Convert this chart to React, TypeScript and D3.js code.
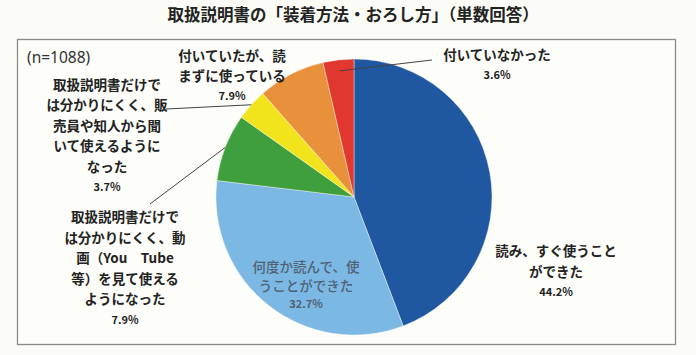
import React from "react";
import * as d3 from "d3";

const title = "取扱説明書の「装着方法・おろし方」（単数回答）";
const sampleNote = "(n=1088)";
const categories = [
  "読み、すぐ使うことができた",
  "何度か読んで、使うことができた",
  "取扱説明書だけでは分かりにくく、動画（You Tube等）を見て使えるようになった",
  "取扱説明書だけでは分かりにくく、販売員や知人から聞いて使えるようになった",
  "付いていたが、読まずに使っている",
  "付いていなかった",
];
const values = [44.2, 32.7, 7.9, 3.7, 7.9, 3.6];
const labelLines = [
  ["読み、すぐ使うこと", "ができた"],
  ["何度か読んで、使", "うことができた"],
  ["取扱説明書だけで", "は分かりにくく、動", "画（You　Tube", "等）を見て使える", "ようになった"],
  ["取扱説明書だけで", "は分かりにくく、販", "売員や知人から聞", "いて使えるように", "なった"],
  ["付いていたが、読", "まずに使っている"],
  ["付いていなかった"],
];
const colors = ["#1f57a0", "#7cb8e4", "#3f9f3c", "#f2e41c", "#e8903a", "#e0382e"];

const W = 696;
const H = 355;
const cx = 354;
const cy = 197;
const R = 138;

// label layout: centre x, first-line y, line height, leader (start x,y, end radius fraction), text colour
const layout = [
  { x: 556, y: 256, lh: 20.5, leader: null, color: "#222", weight: 700 },
  { x: 306, y: 272, lh: 18.5, leader: null, color: "#4f6274", weight: 500 },
  { x: 125, y: 222, lh: 20.5, leader: { x: 150, y: 204, k: 1.0 }, color: "#222", weight: 700 },
  { x: 107, y: 90, lh: 20.4, leader: { x: 166, y: 109, k: 1.0 }, color: "#222", weight: 700 },
  { x: 232, y: 61, lh: 20, leader: null, color: "#222", weight: 700 },
  { x: 497, y: 60, lh: 20, leader: { x: 432, y: 60, k: 0.92 }, color: "#222", weight: 700 },
];

export default function App() {
  const pie = d3.pie<number>().sort(null).value((d) => d);
  const arcs = pie(values);
  const arc = d3.arc<d3.PieArcDatum<number>>().innerRadius(0).outerRadius(R);
  const font = "'Noto Sans CJK JP', 'Noto Sans', sans-serif";

  return (
    <svg
      width={W}
      height={H}
      style={{ position: "absolute", left: 0, top: 0, background: "#fcfcf6" }}
      fontFamily={font}
    >
      <rect x={0} y={0} width={W} height={H} fill="#fcfcf6" />
      <text x={353} y={21} textAnchor="middle" fontSize={16.5} fontWeight={700} fill="#222">
        {title}
      </text>
      <rect x={17.5} y={39.5} width={658} height={305} fill="#fdfdf9" stroke="#8a8a8a" strokeWidth={1.3} />
      <text x={27} y={63} fontSize={15.5} fill="#333" fontFamily="'Noto Sans', sans-serif">
        {sampleNote}
      </text>
      <g transform={`translate(${cx},${cy})`}>
        {arcs.map((a, i) => (
          <path key={categories[i]} d={arc(a) || ""} fill={colors[i]} stroke="#fdfdf9" strokeWidth={0.4} />
        ))}
      </g>
      {arcs.map((a, i) => {
        const L = layout[i];
        if (!L.leader) return null;
        const k = L.leader.k;
        const [ex, ey] = d3
          .arc<d3.PieArcDatum<number>>()
          .innerRadius(R * k)
          .outerRadius(R * k)
          .centroid(a);
        return (
          <line
            key={"l" + i}
            x1={L.leader.x}
            y1={L.leader.y}
            x2={cx + ex}
            y2={cy + ey}
            stroke="#444"
            strokeWidth={1}
          />
        );
      })}
      {labelLines.map((lines, i) => {
        const L = layout[i];
        return (
          <g key={"t" + i} fill={L.color} textAnchor="middle">
            {lines.map((ln, j) => (
              <text key={j} x={L.x} y={L.y + j * L.lh} fontSize={13.5} fontWeight={L.weight}>
                {ln}
              </text>
            ))}
            <text x={L.x} y={L.y + lines.length * L.lh - 1} fontSize={11} fontWeight={700}>
              {values[i].toFixed(1) + "%"}
            </text>
          </g>
        );
      })}
    </svg>
  );
}
